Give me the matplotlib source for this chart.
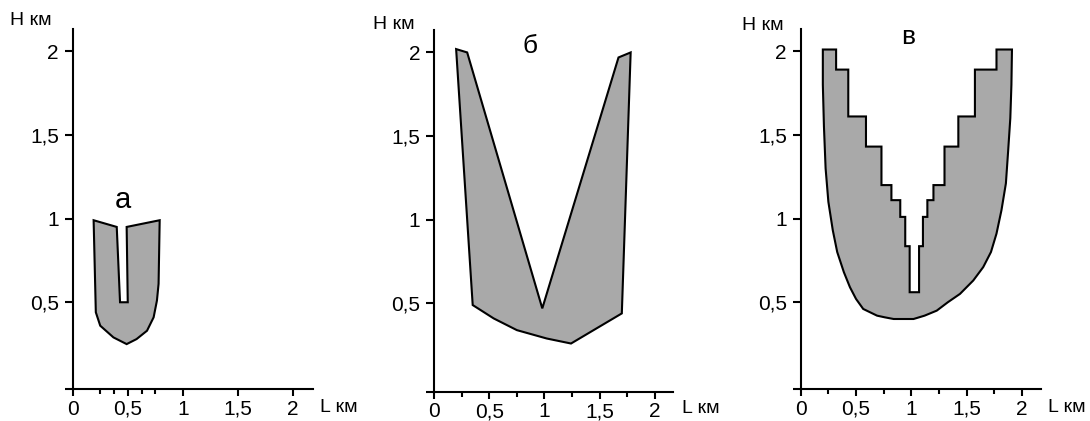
import matplotlib.pyplot as plt

plt.rcParams['font.family'] = ['Liberation Sans', 'DejaVu Sans']

# outline of panel a (L km, H km)
a_L = [0.19, 0.40, 0.43, 0.50, 0.49, 0.79, 0.78, 0.765, 0.735, 0.675, 0.58, 0.49,
       0.37, 0.25, 0.21]
a_H = [0.99, 0.95, 0.50, 0.50, 0.95, 0.99, 0.61, 0.51, 0.41, 0.33, 0.28, 0.25,
       0.29, 0.36, 0.44]

# outline of panel b
b_L = [0.20, 0.30, 0.98, 1.67, 1.78, 1.70, 1.24, 1.02, 0.75, 0.54, 0.35]
b_H = [2.02, 2.00, 0.47, 1.97, 2.00, 0.44, 0.26, 0.29, 0.34, 0.41, 0.49]

# outline of panel v (stepped inner side, smooth outer side)
v_L = [0.20, 0.32, 0.32, 0.43, 0.43, 0.59, 0.59, 0.73, 0.73, 0.82, 0.82, 0.90,
       0.90, 0.945, 0.945, 0.985, 0.985, 1.07, 1.07, 1.105, 1.105, 1.145, 1.145,
       1.20, 1.20, 1.30, 1.30, 1.425, 1.425, 1.575, 1.575, 1.77, 1.77, 1.91,
       1.905, 1.895, 1.875, 1.855, 1.815, 1.77, 1.72, 1.65, 1.56, 1.44, 1.33,
       1.23, 1.12, 1.02, 0.92, 0.84, 0.76, 0.69, 0.565, 0.50, 0.445, 0.39,
       0.33, 0.29, 0.25, 0.225, 0.21, 0.20]
v_H = [2.01, 2.01, 1.89, 1.89, 1.61, 1.61, 1.43, 1.43, 1.20, 1.20, 1.11, 1.11,
       1.01, 1.01, 0.835, 0.835, 0.56, 0.56, 0.835, 0.835, 1.01, 1.01, 1.11,
       1.11, 1.20, 1.20, 1.43, 1.43, 1.61, 1.61, 1.89, 1.89, 2.01, 2.01,
       1.80, 1.60, 1.40, 1.21, 1.05, 0.91, 0.80, 0.71, 0.63, 0.55, 0.50,
       0.45, 0.42, 0.40, 0.40, 0.40, 0.41, 0.42, 0.46, 0.52, 0.59, 0.68,
       0.80, 0.93, 1.10, 1.30, 1.55, 1.80]

x_major = [0, 0.5, 1, 1.5, 2]
x_labels = ['0', '0,5', '1', '1,5', '2']
y_labels = ['', '0,5', '1', '1,5', '2']


def setup_axis(ax, xmax, ybot, ytop, x_minor, letter, letter_x, letter_y, letter_size,
               h_x, h_y, l_x, l_y):
    ax.set_xlim(0, xmax)
    ax.set_ylim(ybot, ytop)
    for side in ['top', 'right']:
        ax.spines[side].set_visible(False)
    ax.spines['left'].set_position(('data', 0))
    for side in ['left', 'bottom']:
        ax.spines[side].set_linewidth(1.5)
    ax.set_xticks(x_major)
    ax.set_xticklabels(x_labels)
    ax.set_xticks(x_minor, minor=True)
    ax.set_yticks([ybot, 0.5, 1, 1.5, 2])
    ax.set_yticklabels(y_labels)
    ax.tick_params(axis='x', which='major', direction='out', length=5, width=1.5,
                   labelsize=15, pad=2.5)
    ax.tick_params(axis='x', which='minor', direction='out', length=3.8, width=1.5)
    ax.tick_params(axis='y', which='major', direction='out', length=6, width=1.5,
                   labelsize=15, pad=4)
    ax.patch.set_alpha(0)
    ax.text(letter_x, letter_y, letter, fontsize=letter_size, ha='center', va='center')
    ax.text(h_x, h_y, 'H км', transform=ax.transAxes, fontsize=14, ha='left',
            va='baseline')
    ax.text(l_x, l_y, 'L км', transform=ax.transAxes, fontsize=14, ha='left',
            va='baseline')


fig = plt.figure(figsize=(10.9, 4.21), dpi=100)

ax1 = fig.add_axes([0.0667, 0.0753, 0.2202, 0.8568])
ax1.fill(a_L, a_H, facecolor='#a9a9a9', edgecolor='black', linewidth=1.5)
setup_axis(ax1, 2.18, -0.02, 2.135, [0.25, 0.375, 0.625, 0.75], 'а', 0.457, 1.11, 21,
           -0.261, 1.01, 1.03, -0.062)

ax2 = fig.add_axes([0.3982, 0.0696, 0.2195, 0.8591])
ax2.fill(b_L, b_H, facecolor='#a9a9a9', edgecolor='black', linewidth=1.5)
setup_axis(ax2, 2.166, -0.028, 2.134, [0.25, 0.75, 1.25, 1.75], 'б', 0.87, 2.04, 19,
           -0.255, 1.002, 1.035, -0.06)

ax3 = fig.add_axes([0.7346, 0.0753, 0.2202, 0.8568])
ax3.fill(v_L, v_H, facecolor='#a9a9a9', edgecolor='black', linewidth=1.5)
setup_axis(ax3, 2.17, -0.02, 2.135, [0.25, 0.75, 1.25, 1.75], 'в', 0.97, 2.085, 19,
           -0.246, 0.995, 1.032, -0.062)

plt.savefig('out.png', dpi=100)
